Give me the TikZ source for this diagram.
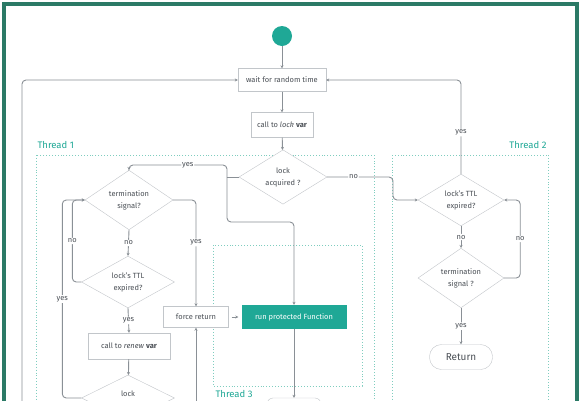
\documentclass[tikz,border=0pt]{standalone}
\usepackage{fontspec}
\setmainfont{Fira Sans}
\usetikzlibrary{arrows.meta,shapes.geometric,calc}
\definecolor{framec}{HTML}{2B7A66}
\definecolor{tealc}{HTML}{1FA896}
\definecolor{dotc}{HTML}{7FCDBF}
\definecolor{linec}{HTML}{8A9096}
\definecolor{boxc}{HTML}{C2C6CA}
\definecolor{txtc}{HTML}{4A4F55}

\begin{document}
\begin{tikzpicture}[x=1pt, y=-1pt, >={Stealth[length=3pt,width=3pt]},
    font=\fontsize{7.5}{12}\selectfont, text=txtc,
    box/.style={draw=boxc, fill=white, rectangle, inner sep=2pt},
    dec/.style={draw=boxc, fill=white, diamond, inner sep=0pt, align=center,
        minimum width=88, minimum height=46},
    conn/.style={draw=linec, line width=0.9pt, rounded corners=4pt},
    lab/.style={fill=white, inner sep=1pt, text=txtc},
    thr/.style={draw=dotc, line width=0.9pt, dotted},
    thrlab/.style={text=tealc, font=\fontsize{9.5}{11}\selectfont}]
    \clip (0,0) rectangle (588,400);
    \fill[white] (0,0) rectangle (588,400);
    \draw[framec, line width=4pt] (4,4) rectangle (577,430);

    % thread areas
    \draw[thr] (36,155) rectangle (374,430);
    \node[thrlab, anchor=south west] at (34,152) {Thread 1};
    \draw[thr] (392,155) rectangle (548,430);
    \node[thrlab, anchor=south east] at (550,152) {Thread 2};
    \draw[thr] (213,245) rectangle (362,386);
    \node[thrlab, anchor=north west] at (212,387) {Thread 3};

    % main flow
    \node[circle, fill=tealc, minimum size=20, inner sep=0pt] (start) at (282,36) {};
    \node[box, minimum width=88, minimum height=23] (wait) at (282,80) {wait for random time};
    \node[box, minimum width=62, minimum height=25] (call) at (282,125) {call to \textit{lock} \textbf{var}};
    \node[dec] (acq) at (283,177) {lock\\acquired ?};

    % thread 1
    \node[dec] (term1) at (129,200) {termination\\signal?};
    \node[dec, minimum width=93, minimum height=45] (ttl1) at (128,282) {lock's TTL\\expired?};
    \node[box, minimum width=82, minimum height=26] (renew) at (129,346) {call to \textit{renew} \textbf{var}};
    \node[dec, minimum width=93] (lock) at (128,398) {};
    \node[anchor=base] (locktxt) at (128,396) {lock};
    \node[box, minimum width=65, minimum height=21] (force) at (196,317) {force return};

    % thread 3
    \node[rectangle, fill=tealc, text=white, minimum width=105, minimum height=24] (run) at (294,317) {run protected Function};
    \node[box, rounded corners=6pt, minimum width=54, minimum height=22] (fin) at (294,409) {};

    % thread 2
    \node[dec, minimum width=86, minimum height=46] (ttl2) at (461,200) {lock's TTL\\expired?};
    \node[dec, minimum width=86, minimum height=46] (term2) at (461,278) {termination\\signal ?};
    \node[box, rounded corners=12pt, minimum width=63, minimum height=25,
        font=\fontsize{10}{12}\selectfont] (ret) at (461,357) {Return};

    \coordinate (jA) at (227,177);
    \coordinate (lowL) at (22,430);
    \coordinate (lowF) at (196,430);

    % connectors
    \draw[conn,->] (start) -- (wait);
    \draw[conn,->] (wait) -- (call);
    \draw[conn,->] (call) -- (acq);
    \draw[conn] (acq.west) -- (jA);
    \draw[conn,->] (jA) |- node[lab, pos=0.7] {yes} (129,165) -- (term1.north);
    \draw[conn,->] (jA) -- ++(0,45) -| (run.north);
    \draw[conn,->] (acq.east) -- node[lab, pos=0.4] {no} (393,177) |- (ttl2.west);
    \draw[conn,->] (ttl2.north) |- node[lab, pos=0.22] {yes} (wait.east);
    \draw[conn,->] (ttl2.south) -- node[lab] {no} (term2.north);
    \draw[conn,->] (term2.east) -- ++(16,0) |- node[lab, pos=0.25] {no} (ttl2.east);
    \draw[conn,->] (term2.south) -- node[lab] {yes} (ret.north);

    \draw[conn,->] (term1.south) -- node[lab] {no} (ttl1.north);
    \draw[conn,->] (term1.east) -| node[lab, pos=0.7] {yes} (force.north);
    \draw[conn,->] (ttl1.south) -- node[lab] {yes} (renew.north);
    \draw[conn,->] (renew) -- (lock);
    \draw[conn,->] (ttl1.west) -- ++(-9,0) |- node[lab, pos=0.25] {no} (term1.west);
    \draw[conn,->] (lock.west) -- ++(-19,0) |- node[lab, pos=0.25] {yes} (term1.west);
    \draw[conn,->] (lowF) -- (force.south);
    \draw[conn,->, shorten <=3pt, shorten >=3pt] (force) -- (run);
    \draw[conn,->] (run) -- (fin);
    \draw[conn,->] (lowL) |- (wait.west);
\end{tikzpicture}
\end{document}
